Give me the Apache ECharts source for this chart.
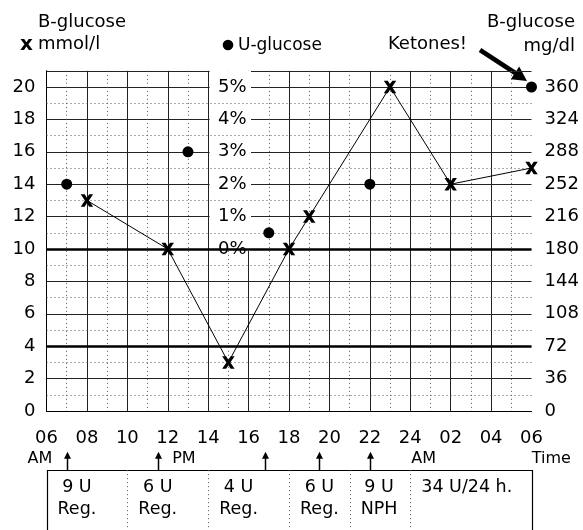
<!DOCTYPE html>
<html><head><meta charset="utf-8">
<script src="https://cdn.jsdelivr.net/npm/echarts@6/dist/echarts.min.js"></script>
<style>html,body{margin:0;padding:0;background:#fff}#c{width:583px;height:530px}</style>
</head><body><div id="c"></div>
<script>
// ---------- data ----------
const xTickLabels = ['06','08','10','12','14','16','18','20','22','24','02','04','06'];
const mmolTickLabels = ['0','2','4','6','8','10','12','14','16','18','20'];
const mgdlTickLabels = ['0','36','72','108','144','180','216','252','288','324','360'];
const pctTickLabels = ['0%','1%','2%','3%','4%','5%'];
const bGlucoseHours = [8, 12, 15, 18, 19, 23, 26, 30];
const bGlucoseMmol  = [13, 10, 3, 10, 12, 20, 14, 15];
const uGlucoseHours = [7, 13, 17, 22, 30];
const uGlucosePct   = [2, 3, 0.5, 2, 5];
const thresholdsMmol = [4, 10];
const injectionHours = [7, 11.5, 16.8, 19.5, 22];
const doseCellBounds = [6, 10, 14, 18, 21, 24, 30];
const doseAmounts = ['9 U', '6 U', '4 U', '6 U', '9 U', '34 U/24 h.'];
const doseTypes   = ['Reg.', 'Reg.', 'Reg.', 'Reg.', 'NPH', ''];
const timeMarks   = ['AM', 'PM', 'AM', 'Time'];

// ---------- layout ----------
const FONT = '"DejaVu Sans", sans-serif';
const L = { arrowTip: 13, boxTop: 33.5, row1: 52.5, row2: 77.5, markRow: 21, cellPad: 11,
            timeMarkAt: [5.67, 12.8, 24.66, 30.98] };
const X_PATH = 'path://M0,0L32,0L50,28L68,0L100,0L66,50L100,100L68,100L50,72L32,100L0,100L34,50Z';
const oddLines = [];
for (let v = 1; v < 20; v += 2) oddLines.push(v);

const mctx = document.createElement('canvas').getContext('2d');
function tw(t, size) { mctx.font = size + 'px ' + FONT; return mctx.measureText(t).width; }
const crisp = v => Math.round(v) + 0.5;

const chart = echarts.init(document.getElementById('c'), null, { renderer: 'canvas' });
const axisLbl = { fontSize: 18, color: '#000', fontFamily: FONT };

const option = {
  animation: false,
  textStyle: { fontFamily: FONT },
  grid: [
    { left: 46.5, right: 51.5, top: 70.8, height: 340.2, show: false },
    { left: 46.5, right: 51.5, top: 440, height: 100, show: false }
  ],
  xAxis: [
    { type: 'value', gridIndex: 0, min: 6, max: 30, interval: 2,
      axisLine: { show: true, lineStyle: { color: '#000', width: 1 } },
      axisTick: { show: false },
      axisLabel: Object.assign({}, axisLbl, { margin: 18,
        formatter: v => { const k = (v - 6) / 2; return Number.isInteger(k) && xTickLabels[k] ? xTickLabels[k] : ''; } }),
      splitLine: { show: true, showMaxLine: false, lineStyle: { color: '#222', width: 1 } },
      minorTick: { show: false, splitNumber: 2 },
      minorSplitLine: { show: true, lineStyle: { color: '#555', width: 1, type: [1, 3] } } },
    { type: 'value', gridIndex: 1, min: 6, max: 30, show: false }
  ],
  yAxis: [
    { type: 'value', gridIndex: 0, min: 0, max: 21, interval: 2,
      axisLine: { show: true, lineStyle: { color: '#000', width: 1 } },
      axisTick: { show: false },
      axisLabel: Object.assign({}, axisLbl, { margin: 11,
        formatter: v => mmolTickLabels.includes(String(v)) ? String(v) : '' }),
      splitLine: { show: true, lineStyle: { color: '#222', width: 1 } } },
    { type: 'value', gridIndex: 0, position: 'right', min: 0, max: 378, interval: 36,
      axisLine: { show: false }, axisTick: { show: false },
      axisLabel: Object.assign({}, axisLbl, { margin: 13,
        formatter: v => mgdlTickLabels.includes(String(v)) ? String(v) : '' }),
      splitLine: { show: false } },
    { type: 'value', gridIndex: 0, position: 'left', offset: -202, min: -5, max: 5.5, interval: 1, z: 10,
      axisLine: { show: false }, axisTick: { show: false },
      axisLabel: Object.assign({}, axisLbl, { margin: 2,
        formatter: v => { const s = v + '%'; return pctTickLabels.includes(s) ? s : ''; } }),
      splitLine: { show: false } },
    { type: 'value', gridIndex: 1, min: 0, max: 100, inverse: true, show: false }
  ],
  graphic: [
    { type: 'text', x: 38, y: 22, style: { text: 'B-glucose', font: '18px ' + FONT, fill: '#000', align: 'left', verticalAlign: 'middle' } },
    { type: 'text', x: 20, y: 45, style: { text: 'x', font: 'bold 20px ' + FONT, fill: '#000', align: 'left', verticalAlign: 'middle' } },
    { type: 'text', x: 38, y: 44.5, style: { text: 'mmol/l', font: '18px ' + FONT, fill: '#000', align: 'left', verticalAlign: 'middle' } },
    { type: 'circle', shape: { cx: 228, cy: 45, r: 5.3 }, style: { fill: '#000' } },
    { type: 'text', x: 238, y: 46, style: { text: 'U-glucose', font: '17px ' + FONT, fill: '#000', align: 'left', verticalAlign: 'middle' } },
    { type: 'text', x: 427.5, y: 44.5, style: { text: 'Ketones!', font: '18px ' + FONT, fill: '#000', align: 'center', verticalAlign: 'middle' } },
    { type: 'text', x: 575, y: 22, style: { text: 'B-glucose', font: '18px ' + FONT, fill: '#000', align: 'right', verticalAlign: 'middle' } },
    { type: 'text', x: 575, y: 46.5, style: { text: 'mg/dl', font: '18px ' + FONT, fill: '#000', align: 'right', verticalAlign: 'middle' } },
    { type: 'line', shape: { x1: 480, y1: 50, x2: 516, y2: 73.5 }, style: { stroke: '#000', lineWidth: 4.5 } },
    { type: 'polygon', shape: { points: [[527, 81], [510.8, 79.2], [519.2, 66.4]] }, style: { fill: '#000' } }
  ],
  series: [
    { name: 'grid decor', type: 'line', xAxisIndex: 0, yAxisIndex: 0, data: [], z: 2, silent: true,
      markLine: { silent: true, symbol: 'none', label: { show: false }, animation: false,
        emphasis: { disabled: true },
        data: oddLines.map(v => ({ yAxis: v, lineStyle: { type: [1, 3], color: '#555', width: 1 } }))
          .concat(thresholdsMmol.map(v => ({ yAxis: v, lineStyle: { type: 'solid', color: '#000', width: 2.5 } }))) } },
    { name: 'label box', type: 'line', xAxisIndex: 0, yAxisIndex: 0, data: [], z: 3, silent: true, clip: false,
      markArea: { silent: true, itemStyle: { color: '#fff', borderWidth: 0, opacity: 1 }, label: { show: false },
        emphasis: { disabled: true },
        data: [[{ coord: [14.07, 9.87] }, { coord: [16.12, 21.25] }]] } },
    { name: 'B-glucose (mmol/l)', type: 'line', xAxisIndex: 0, yAxisIndex: 0, z: 5, clip: false,
      data: bGlucoseHours.map((h, i) => [h, bGlucoseMmol[i]]),
      symbol: X_PATH, symbolSize: 12.5, showAllSymbol: true,
      lineStyle: { color: '#000', width: 1 }, itemStyle: { color: '#000', borderWidth: 0, opacity: 1 } },
    { name: 'U-glucose', type: 'scatter', xAxisIndex: 0, yAxisIndex: 2, z: 5, clip: false,
      data: uGlucoseHours.map((h, i) => [h, uGlucosePct[i]]),
      symbol: 'circle', symbolSize: 11, itemStyle: { color: '#000', opacity: 1 } },
    { name: 'insulin frame', type: 'custom', xAxisIndex: 1, yAxisIndex: 3, silent: true,
      data: [[6, 30]], encode: { x: [0, 1] },
      renderItem: (p, api) => {
        const a = api.coord([api.value(0), L.boxTop]);
        const b = api.coord([api.value(1), 100]);
        const ch = [{ type: 'rect', shape: { x: crisp(a[0]), y: crisp(a[1]), width: Math.round(b[0] - a[0]), height: b[1] - a[1] + 20 },
          style: { fill: 'none', stroke: '#000', lineWidth: 1.2 } }];
        timeMarks.forEach((t, i) => {
          const c = api.coord([L.timeMarkAt[i], L.markRow]);
          ch.push({ type: 'text', x: c[0], y: c[1], style: { text: t, font: '16px ' + FONT, fill: '#000', align: 'center', verticalAlign: 'middle' } });
        });
        return { type: 'group', children: ch };
      } },
    { name: 'insulin doses', type: 'custom', xAxisIndex: 1, yAxisIndex: 3, silent: true,
      data: doseAmounts.map((d, i) => [doseCellBounds[i], doseCellBounds[i + 1], i]), encode: { x: [0, 1] },
      renderItem: (p, api) => {
        const i = api.value(2);
        const x0 = api.coord([api.value(0), 0])[0];
        const top = api.coord([6, L.boxTop])[1];
        const bottom = api.coord([6, 100])[1] + 20;
        const ch = [];
        if (i > 0) ch.push({ type: 'line', shape: { x1: crisp(x0), y1: top, x2: crisp(x0), y2: bottom },
          style: { stroke: '#555', lineWidth: 1, lineDash: [1, 3] } });
        const l1 = doseAmounts[i], l2 = doseTypes[i];
        const w = Math.max(tw(l1, 17.5), l2 ? tw(l2, 17.5) : 0);
        const cx = x0 + L.cellPad + w / 2;
        ch.push({ type: 'text', x: cx, y: api.coord([6, L.row1])[1], style: { text: l1, font: '17.5px ' + FONT, fill: '#000', align: 'center', verticalAlign: 'middle' } });
        if (l2) ch.push({ type: 'text', x: cx, y: api.coord([6, L.row2])[1], style: { text: l2, font: '17.5px ' + FONT, fill: '#000', align: 'center', verticalAlign: 'middle' } });
        return { type: 'group', children: ch };
      } },
    { name: 'injections', type: 'custom', xAxisIndex: 1, yAxisIndex: 3, silent: true,
      data: injectionHours.map(h => [h]), encode: { x: 0 },
      renderItem: (p, api) => {
        const t = api.coord([api.value(0), L.arrowTip]);
        const b = api.coord([api.value(0), L.boxTop]);
        const x = crisp(t[0]);
        return { type: 'group', children: [
          { type: 'line', shape: { x1: x, y1: t[1] + 5, x2: x, y2: b[1] }, style: { stroke: '#000', lineWidth: 1.5 } },
          { type: 'polygon', shape: { points: [[x, t[1]], [x - 3.5, t[1] + 7], [x + 3.5, t[1] + 7]] }, style: { fill: '#000' } }
        ] };
      } }
  ]
};
chart.setOption(option);
</script>
</body></html>
